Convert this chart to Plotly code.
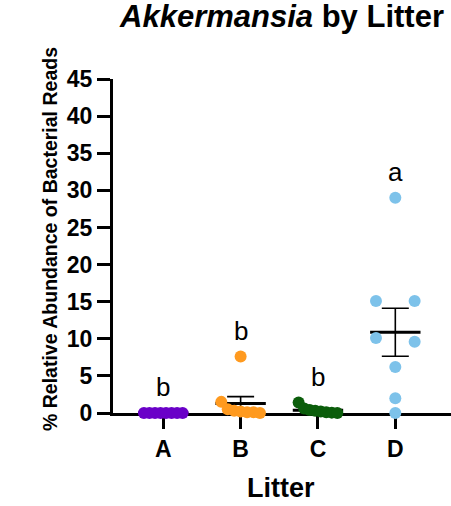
import numpy as np
import plotly.graph_objects as go

# ---------------- data ----------------
litters = ["A", "B", "C", "D"]
vals_A = [0.0, 0.0, 0.0, 0.0, 0.0, 0.0, 0.0, 0.0]
vals_B = [7.6, 1.5, 0.5, 0.3, 0.2, 0.1, 0.1, 0.0]
vals_C = [1.4, 0.6, 0.4, 0.3, 0.2, 0.1, 0.05, 0.0]
vals_D = [29.0, 15.1, 15.1, 10.1, 9.6, 6.2, 2.0, 0.0]
sig_letters = ["b", "b", "b", "a"]
y_ticks = [0, 5, 10, 15, 20, 25, 30, 35, 40, 45]

groups = [vals_A, vals_B, vals_C, vals_D]
colors = ["#6A00C8", "#FF9A1F", "#0B5D0B", "#7DC2EA"]

FONT = "Liberation Sans, Arial, sans-serif"
W, H = 451, 506
ML, MR, MT, MB = 113, 0, 79, 93
X_RANGE = [-0.65, 3.72]
Y_RANGE = [0, 45]
plot_h = H - MT - MB
px_per_unit_y = plot_h / (Y_RANGE[1] - Y_RANGE[0])
MARKER = 12


def beeswarm(values, row_tol_units, span):
    """Group close values into rows, spread each row evenly across span."""
    order = np.argsort(values)[::-1]
    offsets = np.zeros(len(values))
    rows = []
    for idx in order:
        if rows and abs(values[rows[-1][0]] - values[idx]) <= row_tol_units:
            rows[-1].append(idx)
        else:
            rows.append([idx])
    for row in rows:
        n = len(row)
        if n == 1:
            continue
        for k, idx in enumerate(row):
            offsets[idx] = -span / 2 + span * k / (n - 1)
    return offsets


fig = go.Figure()

row_tol = MARKER / px_per_unit_y * 1.02
for i, (vals, col) in enumerate(zip(groups, colors)):
    v = np.array(vals, dtype=float)
    mean = v.mean()
    sem = v.std(ddof=1) / np.sqrt(len(v))
    # mean + SEM
    fig.add_trace(go.Scatter(
        x=[i], y=[mean], mode="markers",
        marker=dict(symbol="line-ew", size=36, color="black",
                    line=dict(color="black", width=3)),
        error_y=dict(type="data", array=[sem], visible=True,
                     color="black", thickness=1.6, width=13.5),
        cliponaxis=False, hoverinfo="skip", showlegend=False))

for i, (vals, col) in enumerate(zip(groups, colors)):
    v = np.array(vals, dtype=float)
    offs = beeswarm(v, row_tol, 0.5)
    fig.add_trace(go.Scatter(
        x=i + offs, y=v, mode="markers",
        marker=dict(size=MARKER, color=col, line=dict(width=0)),
        cliponaxis=False, showlegend=False))

# significance letters
for i, (vals, letter) in enumerate(zip(groups, sig_letters)):
    fig.add_annotation(x=i, y=max(vals), text=letter, showarrow=False,
                       xref="x", yref="y", yanchor="bottom", yshift=9,
                       font=dict(family=FONT, size=26, color="black"))

# axis titles
fig.add_annotation(text="% Relative Abundance of Bacterial Reads",
                   textangle=-90, showarrow=False,
                   xref="paper", yref="paper",
                   x=(50 - ML) / (W - ML - MR), y=(413 - 239) / plot_h,
                   xanchor="center", yanchor="middle",
                   font=dict(family=FONT, size=19.5, color="black", weight="bold"))
fig.add_annotation(text="Litter", showarrow=False,
                   xref="paper", yref="paper",
                   x=(281 - ML) / (W - ML - MR), y=(413 - 488) / plot_h,
                   xanchor="center", yanchor="middle",
                   font=dict(family=FONT, size=27, color="black", weight="bold"))

fig.update_layout(
    width=W, height=H,
    margin=dict(l=ML, r=MR, t=MT, b=MB, pad=0),
    paper_bgcolor="white", plot_bgcolor="white",
    title=dict(text="<i>Akkermansia</i> by Litter",
               x=282 / W, xanchor="center",
               y=1 - 16 / H, yanchor="middle", yref="container",
               font=dict(family=FONT, size=31, color="black", weight="bold")),
    xaxis=dict(range=X_RANGE, tickmode="array", tickvals=list(range(4)),
               ticktext=litters, showgrid=False, zeroline=False,
               showline=True, linecolor="black", linewidth=3,
               ticks="outside", ticklen=13, tickwidth=2.5, tickcolor="black",
               tickfont=dict(family=FONT, size=23, color="black", weight="bold"),
               layer="below traces"),
    yaxis=dict(range=Y_RANGE, tickmode="array", tickvals=y_ticks,
               ticktext=[str(t) for t in y_ticks], showgrid=False,
               zeroline=False, showline=True, linecolor="black", linewidth=3,
               ticks="outside", ticklen=13, tickwidth=2.5, tickcolor="black",
               tickfont=dict(family=FONT, size=23, color="black", weight="bold"),
               layer="below traces"),
)

fig.write_html("out.html")
